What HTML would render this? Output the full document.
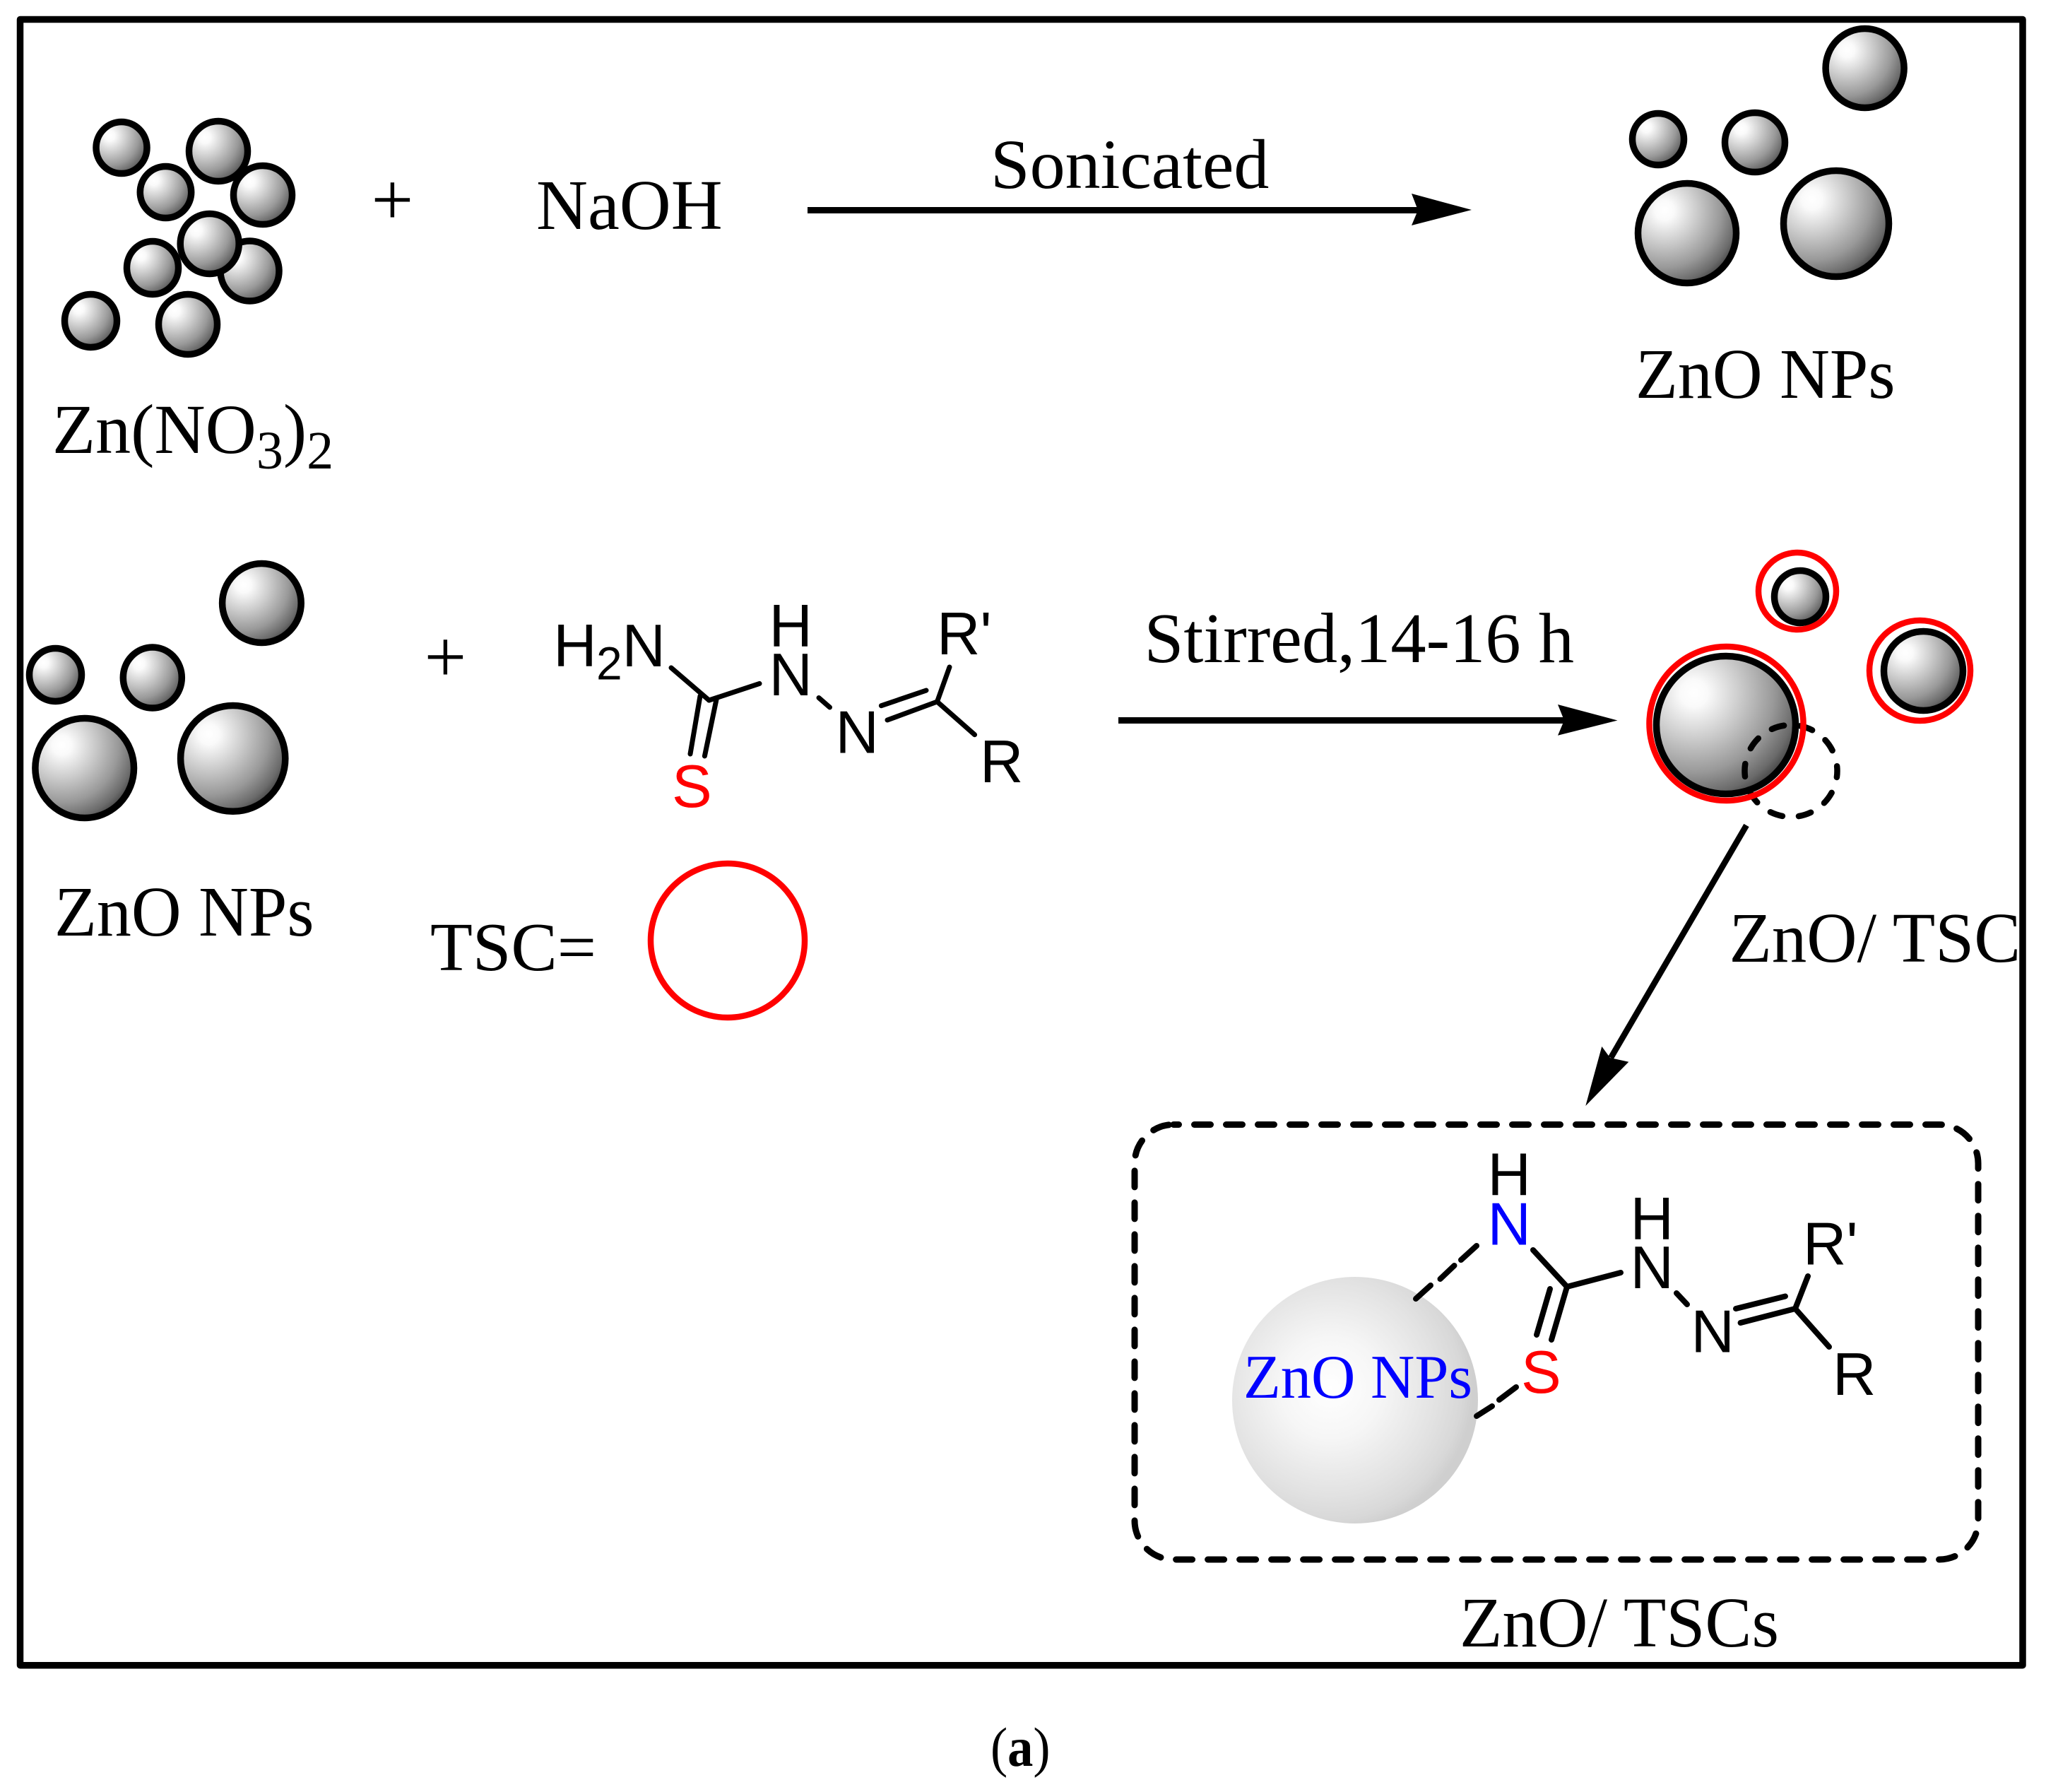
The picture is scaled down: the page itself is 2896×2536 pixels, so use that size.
<!DOCTYPE html>
<html>
<head>
<meta charset="utf-8">
<style>
html,body{margin:0;padding:0;background:#fff;width:2896px;height:2536px;overflow:hidden}
svg{display:block}
text{font-family:"Liberation Serif",serif;font-size:100px;fill:#000}
.m{font-family:"Liberation Sans",sans-serif;font-size:85px}
.b line{stroke:#000;stroke-width:7;stroke-linecap:round}
.c line{stroke:#000;stroke-width:8;stroke-linecap:round}
.s{fill:url(#g);stroke:#000;stroke-width:9.5}
</style>
</head>
<body>
<svg width="2896" height="2536" viewBox="0 0 2896 2536" xmlns="http://www.w3.org/2000/svg">
<defs>
<radialGradient id="g" cx=".27" cy=".27" r=".82">
<stop offset="0" stop-color="#fff"/><stop offset=".12" stop-color="#fafafa"/><stop offset=".4" stop-color="#cccccc"/><stop offset=".7" stop-color="#999"/><stop offset=".9" stop-color="#6a6a6a"/><stop offset="1" stop-color="#444"/>
</radialGradient>
<radialGradient id="p" cx=".4" cy=".45" r=".58">
<stop offset="0" stop-color="#fff"/><stop offset=".35" stop-color="#f6f6f6"/><stop offset=".75" stop-color="#e2e2e2"/><stop offset=".92" stop-color="#d8d8d8"/><stop offset="1" stop-color="#cfcfcf"/>
</radialGradient>
</defs>
<rect width="2896" height="2536" fill="#fff"/>
<rect x="28.5" y="27.5" width="2834.5" height="2329.2" fill="none" stroke="#000" stroke-width="9.5" stroke-linejoin="round"/>

<!-- Cluster -->
<ellipse class="s" cx="172" cy="209" rx="36" ry="36.5"/>
<ellipse class="s" cx="372" cy="276" rx="41.5" ry="41.5"/>
<ellipse class="s" cx="309" cy="214" rx="41.5" ry="42.5"/>
<ellipse class="s" cx="234.5" cy="272" rx="36.2" ry="36.5"/>
<ellipse class="s" cx="353.5" cy="383.5" rx="41.5" ry="42.5"/>
<ellipse class="s" cx="216" cy="379" rx="36.5" ry="37.5"/>
<ellipse class="s" cx="296.7" cy="345" rx="41.5" ry="42.5"/>
<ellipse class="s" cx="128.5" cy="454" rx="37" ry="37.5"/>
<ellipse class="s" cx="266" cy="459" rx="41.5" ry="42.5"/>

<text x="74" y="641">Zn(NO<tspan font-size="76" dy="22">3</tspan><tspan dy="-22">)</tspan><tspan font-size="76" dy="22">2</tspan></text>
<text x="525.5" y="318" style="font-size:106px">+</text>
<text x="759" y="324" style="font-size:101px">NaOH</text>
<text x="1402" y="266">Sonicated</text>

<!-- Arrow 1 -->
<line x1="1143" y1="297.5" x2="2010" y2="297.5" stroke="#000" stroke-width="9"/>
<polygon points="2083,297 1998,274 2007,297.5 1998,319" fill="#000"/>

<!-- Top-right NPs -->
<ellipse class="s" cx="2639.6" cy="96.5" rx="55.5" ry="56"/>
<ellipse class="s" cx="2347" cy="197" rx="36.5" ry="36.5"/>
<ellipse class="s" cx="2484" cy="201.5" rx="42.5" ry="42"/>
<ellipse class="s" cx="2388" cy="330" rx="69.5" ry="70.5"/>
<ellipse class="s" cx="2599" cy="316.5" rx="74.5" ry="75"/>
<text x="2315" y="563" style="font-size:101px" textLength="367.5" lengthAdjust="spacingAndGlyphs">ZnO NPs</text>

<!-- Left NPs -->
<ellipse class="s" cx="370.4" cy="853.5" rx="55.8" ry="56"/>
<ellipse class="s" cx="78.5" cy="955" rx="37" ry="37.5"/>
<ellipse class="s" cx="215.8" cy="959" rx="41.5" ry="43"/>
<ellipse class="s" cx="119.7" cy="1087" rx="69.8" ry="70.5"/>
<ellipse class="s" cx="329.7" cy="1073.4" rx="74.1" ry="74.9"/>
<text x="77" y="1324" style="font-size:101px" textLength="367.5" lengthAdjust="spacingAndGlyphs">ZnO NPs</text>
<text x="600.5" y="965" style="font-size:106px">+</text>

<!-- Molecule 1 -->
<g class="b">
<line x1="950" y1="945" x2="1003.6" y2="991"/>
<line x1="1003.6" y1="991" x2="1075" y2="967.4"/>
<line x1="991" y1="985" x2="977" y2="1067"/>
<line x1="1014" y1="990" x2="997.4" y2="1070"/>
<line x1="1159" y1="987.5" x2="1174.5" y2="1001"/>
<line x1="1247.4" y1="998.7" x2="1311" y2="977"/>
<line x1="1256" y1="1019" x2="1326.5" y2="993"/>
<line x1="1326.5" y1="993" x2="1344" y2="944"/>
<line x1="1326.5" y1="993" x2="1379.6" y2="1039.7"/>
</g>
<text class="m" x="783.3" y="943">H</text>
<text class="m" x="844" y="961.6" style="font-size:66px">2</text>
<text class="m" x="880.5" y="943">N</text>
<text class="m" x="1088.5" y="915">H</text>
<text class="m" x="1088.5" y="984">N</text>
<text class="m" x="951" y="1142" style="fill:#f00">S</text>
<text class="m" x="1182.5" y="1065.6">N</text>
<text class="m" x="1326" y="926">R'</text>
<text class="m" x="1387" y="1107">R</text>

<!-- TSC legend -->
<text x="609" y="1373" style="font-size:98px">TSC=</text>
<ellipse cx="1030" cy="1331" rx="109" ry="109" fill="none" stroke="#f00" stroke-width="8.5"/>

<!-- Arrow 2 -->
<text x="1619.5" y="937" style="font-size:100.5px">Stirred,14-16 h</text>
<line x1="1583" y1="1019.5" x2="2218" y2="1019.5" stroke="#000" stroke-width="9"/>
<polygon points="2289.5,1019.5 2205,997 2214,1019.5 2205,1040.7" fill="#000"/>

<!-- ZnO/TSC particles -->
<ellipse class="s" cx="2548" cy="844.5" rx="36.5" ry="37"/>
<ellipse cx="2544" cy="836.5" rx="55" ry="54.5" fill="none" stroke="#f00" stroke-width="8.5"/>
<ellipse class="s" cx="2722.5" cy="949.5" rx="56" ry="56"/>
<ellipse cx="2717.5" cy="949" rx="71.5" ry="71" fill="none" stroke="#f00" stroke-width="8.5"/>
<ellipse class="s" cx="2443" cy="1026" rx="98.5" ry="97.5"/>
<ellipse cx="2535" cy="1091" rx="65.5" ry="65" fill="none" stroke="#000" stroke-width="8.5" stroke-linecap="round" stroke-dasharray="18 23.2" stroke-dashoffset="9"/>
<ellipse cx="2443.5" cy="1024" rx="109" ry="109" fill="none" stroke="#f00" stroke-width="8.5"/>
<text x="2447.5" y="1361" style="font-size:101px" textLength="412.6" lengthAdjust="spacingAndGlyphs">ZnO/ TSC</text>

<!-- Diagonal arrow -->
<line x1="2472" y1="1168" x2="2280" y2="1497" stroke="#000" stroke-width="8.5"/>
<polygon points="2244.3,1565 2267.3,1481 2279,1497 2305.3,1502.7" fill="#000"/>

<!-- Dashed box -->
<path d="M1661,1591.5 H2745 A55,55 0 0 1 2800,1646.5 V2152 A55,55 0 0 1 2745,2207 H1661 A55,55 0 0 1 1606,2152 V1646.5 A55,55 0 0 1 1661,1591.5 Z" fill="none" stroke="#000" stroke-width="9" stroke-linecap="round" stroke-dasharray="23 22" stroke-dashoffset="15.5"/>

<!-- Large pale sphere -->
<ellipse cx="1918" cy="1981.5" rx="174" ry="174.5" fill="url(#p)"/>
<text x="1760" y="1978" style="font-size:88px;fill:#00f" textLength="324" lengthAdjust="spacingAndGlyphs">ZnO NPs</text>

<!-- Molecule 2 -->
<g class="c">
<line x1="2090" y1="1763" x2="2068" y2="1783"/>
<line x1="2058.5" y1="1791" x2="2038.5" y2="1810"/>
<line x1="2025" y1="1819" x2="2004" y2="1838"/>
<line x1="2146" y1="1963" x2="2122" y2="1981"/>
<line x1="2112" y1="1990" x2="2090" y2="2004"/>
<line x1="2170" y1="1769" x2="2218" y2="1821"/>
<line x1="2218" y1="1821" x2="2294" y2="1801"/>
<line x1="2194" y1="1824" x2="2175" y2="1889"/>
<line x1="2218" y1="1821" x2="2196" y2="1896"/>
<line x1="2373" y1="1830" x2="2388" y2="1846"/>
<line x1="2457" y1="1852" x2="2527" y2="1834.5"/>
<line x1="2463.6" y1="1872" x2="2541" y2="1852"/>
<line x1="2541" y1="1852" x2="2559" y2="1806"/>
<line x1="2541" y1="1852" x2="2589" y2="1906"/>
</g>
<text class="m" x="2105.5" y="1691.6">H</text>
<text class="m" x="2105.5" y="1761.5" style="fill:#00f">N</text>
<text class="m" x="2307.5" y="1754">H</text>
<text class="m" x="2307.5" y="1823">N</text>
<text class="m" x="2393.5" y="1913.6">N</text>
<text class="m" x="2552" y="1789.6">R'</text>
<text class="m" x="2594" y="1974">R</text>
<text class="m" x="2153" y="1971" style="fill:#f00">S</text>

<text x="2066" y="2330" style="font-size:101px" textLength="452" lengthAdjust="spacingAndGlyphs">ZnO/ TSCs</text>

<text transform="translate(1402,2499) scale(.93,1)" style="font-size:78px">(<tspan font-weight="bold">a</tspan>)</text>
</svg>
</body>
</html>
